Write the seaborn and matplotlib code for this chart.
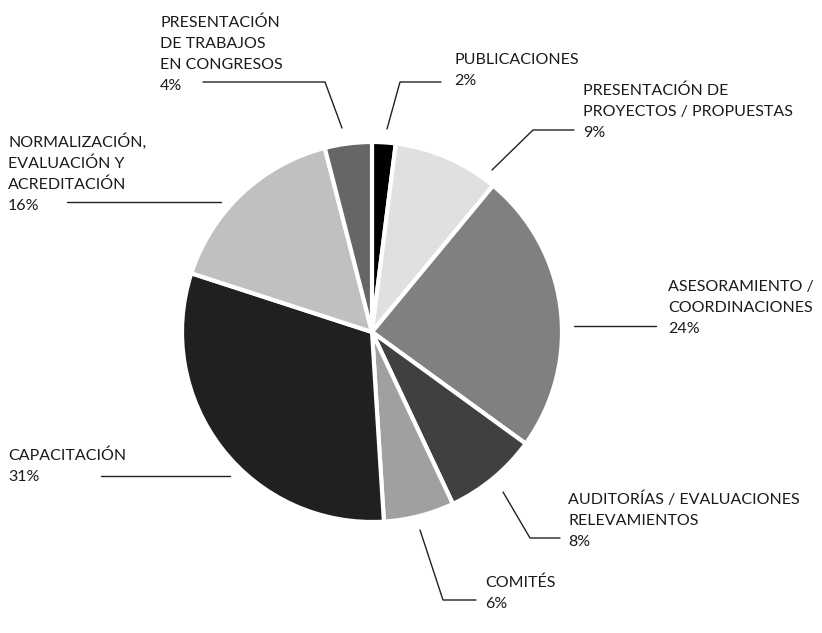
import matplotlib
matplotlib.use("Agg")
import matplotlib.pyplot as plt
import seaborn as sns

categories = [
    "PUBLICACIONES",
    "PRESENTACIÓN DE\nPROYECTOS / PROPUESTAS",
    "ASESORAMIENTO /\nCOORDINACIONES",
    "AUDITORÍAS / EVALUACIONES\nRELEVAMIENTOS",
    "COMITÉS",
    "CAPACITACIÓN",
    "NORMALIZACIÓN,\nEVALUACIÓN Y\nACREDITACIÓN",
    "PRESENTACIÓN\nDE TRABAJOS\nEN CONGRESOS",
]
values = [2, 9, 24, 8, 6, 31, 16, 4]
colors = ["#000000", "#e0e0e0", "#808080", "#404040",
          "#a0a0a0", "#202020", "#c0c0c0", "#666666"]

sns.set_theme(style="white")
plt.rcParams["font.family"] = ["Lato", "DejaVu Sans"]

W, H = 822, 633
fig = plt.figure(figsize=(W / 100, H / 100), dpi=100)
ax = fig.add_axes([0, 0, 1, 1])

def Y(y):
    return H - y

cx, cy, r = 372, 332, 190
ax.pie(values, colors=colors, startangle=90, counterclock=False,
       center=(cx, Y(cy)), radius=r,
       wedgeprops=dict(edgecolor="white", linewidth=3))
ax.set_xlim(0, W)
ax.set_ylim(0, H)
ax.set_aspect("equal")
ax.axis("off")

# label layout: (text x, first baseline y, leader polyline in pixel coords)
layout = [
    (454, 64, [(387, 129), (400, 82), (441, 82)]),
    (583, 95, [(492, 170), (533, 130), (574, 130)]),
    (668, 291, [(574, 326), (656, 326)]),
    (568, 504, [(503, 492), (530, 538), (560, 538)]),
    (485, 587, [(420, 530), (443, 600), (476, 600)]),
    (8, 460, [(101, 476), (230, 476)]),
    (8, 147, [(67, 202), (221, 202)]),
    (160, 27, [(203, 82), (325, 82), (342, 128)]),
]

line_h = 21
for cat, val, (tx, ty, pts) in zip(categories, values, layout):
    lines = cat.split("\n") + [f"{val}%"]
    for i, ln in enumerate(lines):
        ax.text(tx, Y(ty + i * line_h), ln, fontsize=11.5, color="#1a1a1a",
                ha="left", va="baseline")
    xs = [p[0] for p in pts]
    ys = [Y(p[1]) for p in pts]
    ax.plot(xs, ys, color="#222222", linewidth=1.0)

fig.savefig("out.png", dpi=100)
